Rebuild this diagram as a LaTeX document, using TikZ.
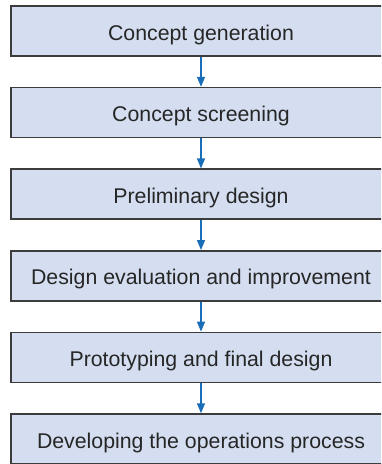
\documentclass[tikz,border=0pt]{standalone}
\usepackage{fontspec}
\setmainfont{Liberation Sans}
\usetikzlibrary{arrows.meta}
\definecolor{boxfill}{HTML}{D4DEF0}
\definecolor{boxline}{HTML}{3C3C3C}
\definecolor{arrowblue}{HTML}{1A6EB8}
\tikzset{
  stage/.style={draw=boxline, line width=1.5pt, fill=boxfill, minimum width=380pt, minimum height=50pt, inner sep=0pt, text height=18pt, text depth=0pt, font=\fontsize{21.3}{24}\selectfont, text=black!85},
  flow/.style={draw=arrowblue, line width=1.3pt, -{Triangle[length=10pt,width=8pt]}}
}
\begin{document}
\begin{tikzpicture}[x=1pt,y=-1pt]
\useasboundingbox (0,0) rectangle (381,464);
\clip (0,0) rectangle (381,464);
\node[stage] (s1) at (201,31) {Concept generation};
\node[stage] (s2) at (201,112.6) {Concept screening};
\node[stage] (s3) at (201,194.2) {Preliminary design};
\node[stage] (s4) at (201,275.8) {Design evaluation and improvement};
\node[stage] (s5) at (201,357.4) {Prototyping and final design};
\node[stage] (s6) at (201,439) {Developing the operations process};
\foreach \a/\b in {s1/s2,s2/s3,s3/s4,s4/s5,s5/s6}
  \draw[flow] (\a.south) -- (\b.north);
\end{tikzpicture}
\end{document}
